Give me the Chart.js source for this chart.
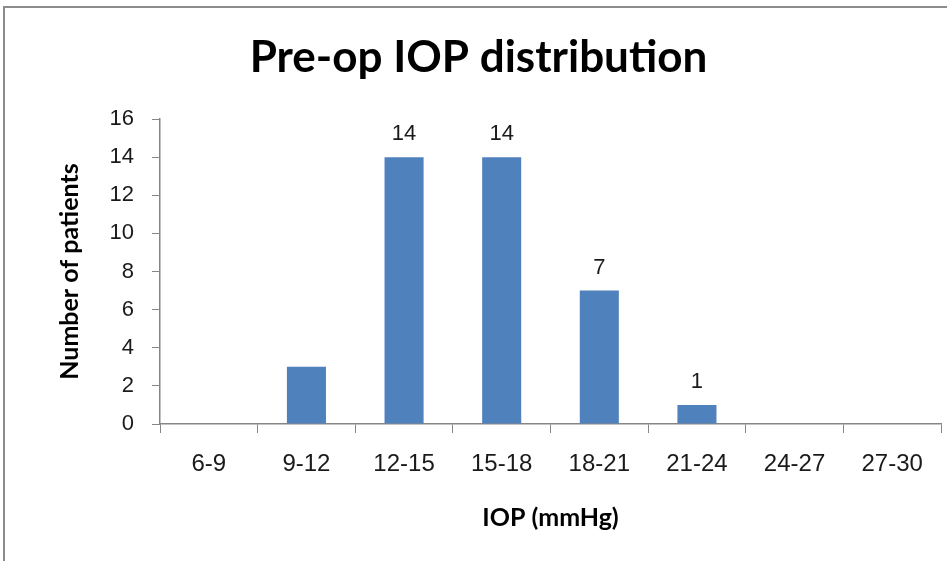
<!DOCTYPE html>
<html>
<head>
<meta charset="utf-8">
<script src="https://cdn.jsdelivr.net/npm/chart.js@4.4.0/dist/chart.umd.min.js"></script>
<style>
  html, body { margin: 0; padding: 0; background: #fff; }
  #wrap { position: relative; width: 947px; height: 561px; }
  #frame {
    position: absolute; left: 3px; top: 6px; right: 0; bottom: 0;
    border-top: 2px solid #8c8c8c; border-left: 2px solid #8c8c8c;
    pointer-events: none;
  }
  canvas { position: absolute; left: 0; top: 0; }
</style>
</head>
<body>
<div id="wrap">
  <canvas id="chart" width="947" height="561"></canvas>
  <div id="frame"></div>
</div>
<script>
// IOP ranges (mmHg) and patient counts per range
const categories = ['6-9', '9-12', '12-15', '15-18', '18-21', '21-24', '24-27', '27-30'];
const patients = [0, 3, 14, 14, 7, 1, 0, 0];
// which bars carry a value label above them
const showLabel = [false, false, true, true, true, true, false, false];
const yTicks = [0, 2, 4, 6, 8, 10, 12, 14, 16];

const textColor = '#1a1a1a';
const axisColor = '#868686';
const labelFont = '"Liberation Sans", Arial, sans-serif';
const titleFont = 'Lato, "Open Sans", sans-serif';

// value labels drawn above the bars
const barLabels = {
  id: 'barLabels',
  afterDatasetsDraw(chart) {
    const ctx = chart.ctx;
    const meta = chart.getDatasetMeta(0);
    ctx.save();
    ctx.font = '22px ' + labelFont;
    ctx.fillStyle = textColor;
    ctx.textAlign = 'center';
    ctx.textBaseline = 'alphabetic';
    meta.data.forEach((bar, i) => {
      if (!showLabel[i]) return;
      ctx.fillText(String(patients[i]), bar.x, bar.y - 17);
    });
    ctx.restore();
  }
};

new Chart(document.getElementById('chart'), {
  type: 'bar',
  data: {
    labels: categories,
    datasets: [{
      data: patients,
      backgroundColor: '#4F81BD',
      borderWidth: 0,
      barPercentage: 0.4,
      categoryPercentage: 1.0
    }]
  },
  options: {
    responsive: false,
    animation: false,
    layout: { padding: { left: 16, right: 6, top: 0, bottom: 24 } },
    plugins: {
      legend: { display: false },
      tooltip: { enabled: false },
      title: {
        display: true,
        text: 'Pre-op IOP distribution',
        color: '#000',
        font: { family: titleFont, size: 44, weight: 'bold', lineHeight: 1.2 },
        padding: { top: 31.6, bottom: 34.6 }
      }
    },
    scales: {
      x: {
        grid: {
          display: true,
          drawOnChartArea: false,
          drawTicks: true,
          tickLength: 9,
          color: axisColor,
          offset: true
        },
        border: { display: true, color: axisColor, width: 1.5 },
        ticks: {
          color: textColor,
          font: { family: labelFont, size: 24 },
          padding: 17,
          maxRotation: 0,
          autoSkip: false
        },
        title: {
          display: true,
          text: 'IOP (mmHg)',
          color: '#000',
          font: { family: titleFont, size: 25, weight: 'bold' },
          padding: { top: 4, bottom: 4 }
        },
        afterFit(scale) { scale.height = 113; }
      },
      y: {
        min: 0,
        max: 16,
        afterBuildTicks(scale) { scale.ticks = yTicks.map(v => ({ value: v })); },
        grid: {
          display: true,
          drawOnChartArea: false,
          drawTicks: true,
          tickLength: 8,
          color: axisColor
        },
        border: { display: true, color: axisColor, width: 1.5 },
        ticks: {
          color: textColor,
          font: { family: labelFont, size: 22 },
          padding: 18
        },
        title: {
          display: true,
          text: 'Number of patients',
          color: '#000',
          font: { family: titleFont, size: 25, weight: 'bold' },
          padding: { top: 39, bottom: 0 }
        },
        afterFit(scale) { scale.width = 160 - 16; }
      }
    }
  },
  plugins: [barLabels]
});
</script>
</body>
</html>
